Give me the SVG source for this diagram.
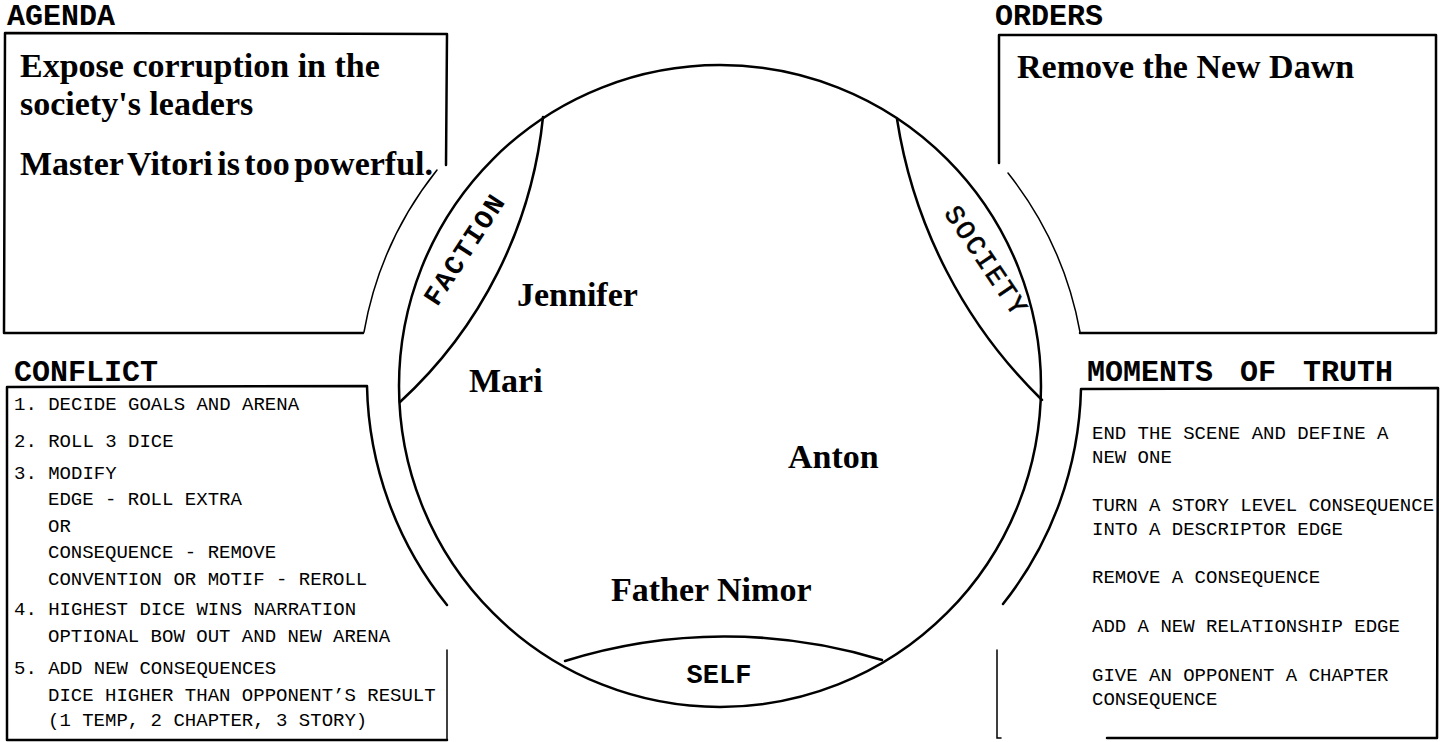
<svg xmlns="http://www.w3.org/2000/svg" width="1444" height="742" viewBox="0 0 1444 742">
<style>
.hdr{font-family:"Liberation Mono","Courier New",monospace;font-weight:bold;font-size:30px;fill:#000}
.big{font-family:"Liberation Serif","Times New Roman",serif;font-weight:bold;font-size:34px;fill:#000}
.body{font-family:"Liberation Mono","Courier New",monospace;font-size:19px;fill:#000}
.lens{font-family:"Liberation Mono","Courier New",monospace;font-size:27px;fill:#000}
.ln{fill:none;stroke:#000;stroke-width:2.5;stroke-linecap:round;stroke-linejoin:round}
.thin{fill:none;stroke:#000;stroke-width:1.5;stroke-linecap:round}
</style>
<rect width="1444" height="742" fill="#fff"/>

<g id="agenda">
  <text class="hdr" x="7" y="25">AGENDA</text>
  <path class="ln" d="M446 165 L447 34 L5 33 L4 333 L363 333"/>
  <path class="thin" d="M437 170 A360 360 0 0 0 364 332"/>
  <text class="big" font-size="33" x="20" y="77">Expose corruption in the</text>
  <text class="big" font-size="33" x="20" y="115">society's leaders</text>
  <text class="big" x="20" y="175" word-spacing="-4">Master Vitori is too powerful.</text>
</g>

<g id="orders">
  <text class="hdr" x="995" y="25">ORDERS</text>
  <path class="ln" d="M999 163 L999 35 L1436 35 L1436 333 L1080 333"/>
  <path class="thin" d="M1008 173 A360 360 0 0 1 1080 332"/>
  <text class="big" x="1017" y="78">Remove the New Dawn</text>
</g>

<g id="conflict">
  <text class="hdr" x="14" y="381">CONFLICT</text>
  <path class="ln" d="M447 605 A360 360 0 0 1 367 386 L7 387 L7 740 L447 740"/>
  <path class="thin" d="M447 650 L447 740"/>
  <text class="body" x="14" y="410">1. DECIDE GOALS AND ARENA</text>
  <text class="body" x="14" y="447">2. ROLL 3 DICE</text>
  <text class="body" x="14" y="479">3. MODIFY</text>
  <text class="body" x="48" y="505">EDGE - ROLL EXTRA</text>
  <text class="body" x="48" y="532">OR</text>
  <text class="body" x="48" y="558">CONSEQUENCE - REMOVE</text>
  <text class="body" x="48" y="585">CONVENTION OR MOTIF - REROLL</text>
  <text class="body" x="14" y="615">4. HIGHEST DICE WINS NARRATION</text>
  <text class="body" x="48" y="642">OPTIONAL BOW OUT AND NEW ARENA</text>
  <text class="body" x="14" y="674">5. ADD NEW CONSEQUENCES</text>
  <text class="body" x="48" y="701">DICE HIGHER THAN OPPONENT’S RESULT</text>
  <text class="body" x="48" y="726">(1 TEMP, 2 CHAPTER, 3 STORY)</text>
</g>

<g id="moments-of-truth">
  <text class="hdr" x="1087" y="381" word-spacing="9">MOMENTS OF TRUTH</text>
  <path class="ln" d="M1003 604 A360 360 0 0 0 1081 389 L1438 388 L1437 738 L1107 738"/>
  <path class="thin" d="M997 650 L997 738 L1001 738"/>
  <text class="body" x="1092" y="439">END THE SCENE AND DEFINE A</text>
  <text class="body" x="1092" y="463">NEW ONE</text>
  <text class="body" x="1092" y="511">TURN A STORY LEVEL CONSEQUENCE</text>
  <text class="body" x="1092" y="535">INTO A DESCRIPTOR EDGE</text>
  <text class="body" x="1092" y="583">REMOVE A CONSEQUENCE</text>
  <text class="body" x="1092" y="632">ADD A NEW RELATIONSHIP EDGE</text>
  <text class="body" x="1092" y="681">GIVE AN OPPONENT A CHAPTER</text>
  <text class="body" x="1092" y="705">CONSEQUENCE</text>
</g>

<g id="circle">
  <circle class="ln" cx="720" cy="386" r="321" stroke-width="2.8"/>
</g>

<g id="faction">
  <path class="ln" d="M543 117 A448 448 0 0 1 400 402"/>
  <text class="lens" font-weight="bold" letter-spacing="2" text-anchor="middle" dominant-baseline="central" transform="translate(466,250) rotate(-57)">FACTION</text>
</g>

<g id="society">
  <path class="ln" d="M897 119 A499 499 0 0 0 1042 400"/>
  <text class="lens" letter-spacing="2" text-anchor="middle" dominant-baseline="central" stroke="#000" stroke-width="0.6" transform="translate(985,262) rotate(56)">SOCIETY</text>
</g>

<g id="self">
  <path class="ln" d="M565 661 A535 535 0 0 1 882 660"/>
  <text class="lens" font-weight="bold" font-size="28" text-anchor="middle" x="719" y="683">SELF</text>
</g>

<g id="characters">
  <text class="big" x="517" y="306">Jennifer</text>
  <text class="big" x="469" y="392">Mari</text>
  <text class="big" x="788" y="468">Anton</text>
  <text class="big" x="611" y="601">Father Nimor</text>
</g>

<g id="connectors"></g>
</svg>
